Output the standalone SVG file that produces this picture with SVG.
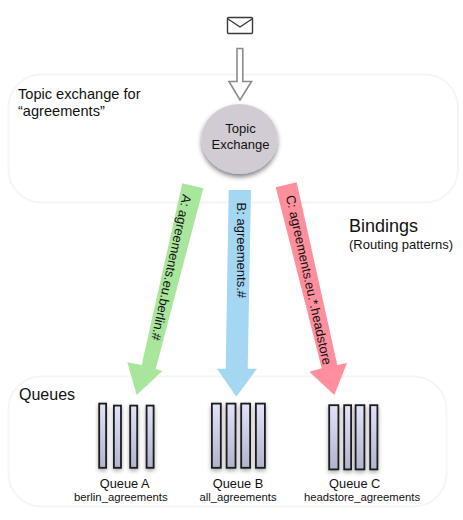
<svg xmlns="http://www.w3.org/2000/svg" width="463" height="520" viewBox="0 0 463 520">
<style>
text{font-family:"Liberation Sans",Arial,sans-serif;fill:#111}
.box{fill:#fff;stroke:#f5f5f5;stroke-width:2}
.bar{fill:url(#q);stroke:#1c1c1c;stroke-width:1.800;filter:url(#qs)}
.ql{font-size:12.800px;text-anchor:middle}
.qs{font-size:11.300px;text-anchor:middle}
.bl{font-size:13px;text-anchor:middle}
.hd{font-size:14.600px}
</style>
<defs>
<linearGradient id="q" x1="0" y1="0" x2="0" y2="1"><stop offset="0" stop-color="#e2e3fb"/><stop offset="1" stop-color="#b0b4cc"/></linearGradient>
<filter id="qs" x="-60%" y="-10%" width="220%" height="125%"><feDropShadow dx="0" dy="2" stdDeviation="2" flood-color="#000" flood-opacity=".35"/></filter>
<filter id="cs" x="-20%" y="-20%" width="140%" height="145%"><feDropShadow dx="0" dy="3" stdDeviation="2.500" flood-color="#000" flood-opacity=".5"/></filter>
</defs>
<g id="topic-area"><rect class="box" x="8.500" y="74.500" width="449.500" height="128" rx="33"/><text class="hd" x="18" y="98.500">Topic exchange for</text><text class="hd" x="18" y="116">“agreements”</text></g>
<g id="queue-area"><rect class="box" x="8.500" y="376.500" width="438" height="130" rx="33"/><text x="19" y="400" font-size="16">Queues</text></g>
<g id="message"><path d="M228.500 17.500H251.500Q252.500 17.500 252.500 18.500V32.500Q252.500 33.500 251.500 33.500H228.500Q227.500 33.500 227.500 32.500V18.500Q227.500 17.500 228.500 17.500ZM228 19L240 27L252 19" fill="#fff" stroke="#3a3a3a" stroke-width="1.400"/></g>
<g id="exchange"><ellipse cx="239.500" cy="139" rx="38" ry="35" fill="#d1ccd4" filter="url(#cs)"/><text x="240.500" y="133.300" font-size="13" text-anchor="middle">Topic</text><text x="240.500" y="148.700" font-size="13" text-anchor="middle">Exchange</text></g>
<g id="connectors">
<path id="publish" d="M237 48.500H242.800V81.500H251.500L240 100L229 81.500H237Z" fill="#fff" stroke="#8b8b8f" stroke-width="1.600"/>
<path id="binding-a" d="M182.300 183.300L203.300 188.300L155.700 369L162.300 371L136.700 395L127.300 362.300L141.700 365Z" fill="#a8e69c"/>
<path id="binding-b" d="M228.700 190H251L247.700 368.700H257L236.300 396.700L217 368.700H225.700Z" fill="#a3d7f2"/>
<path id="binding-c" d="M275.700 187.300L296.700 182.300L337.300 365L347 363L334.300 395L309.300 371.700L321.700 368.300Z" fill="#ff8f9c"/>
<text class="bl" transform="translate(167 266.600) rotate(102.300)">A: agreements.eu.berlin.#</text>
<text class="bl" transform="translate(236.800 250.300) rotate(90)">B: agreements.#</text>
<text class="bl" transform="translate(304.400 280.900) rotate(77.600)">C: agreements.eu.*.headstore</text>
</g>
<g id="bindings-label"><text x="349" y="231.500" font-size="18">Bindings</text><text x="349" y="249.300" font-size="13">(Routing patterns)</text></g>
<g id="queue-a"><rect class="bar" x="99.200" y="403.600" width="6.900" height="64.200"/><rect class="bar" x="113.900" y="405.600" width="7.100" height="62.200"/><rect class="bar" x="130.200" y="405.600" width="7" height="62.200"/><rect class="bar" x="146.600" y="405.600" width="7" height="62.200"/><text class="ql" x="124.700" y="487.500">Queue A</text><text class="qs" x="120.800" y="500.500">berlin_agreements</text></g>
<g id="queue-b"><rect class="bar" x="211.900" y="403.600" width="8.900" height="64.200"/><rect class="bar" x="226.600" y="403.600" width="8.900" height="64.200"/><rect class="bar" x="241.200" y="403.600" width="8.900" height="64.200"/><rect class="bar" x="255.900" y="403.600" width="9" height="64.200"/><text class="ql" x="238" y="487.500">Queue B</text><text class="qs" x="238" y="500.500">all_agreements</text></g>
<g id="queue-c"><rect class="bar" x="329.200" y="405.200" width="9.200" height="64.200"/><rect class="bar" x="344.200" y="405.200" width="6.900" height="64.200"/><rect class="bar" x="355.600" y="405.200" width="8.800" height="64.200"/><rect class="bar" x="370.200" y="405.200" width="7.200" height="64.200"/><text class="ql" x="354.700" y="487.500">Queue C</text><text class="qs" x="362" y="500.500">headstore_agreements</text></g>
</svg>
